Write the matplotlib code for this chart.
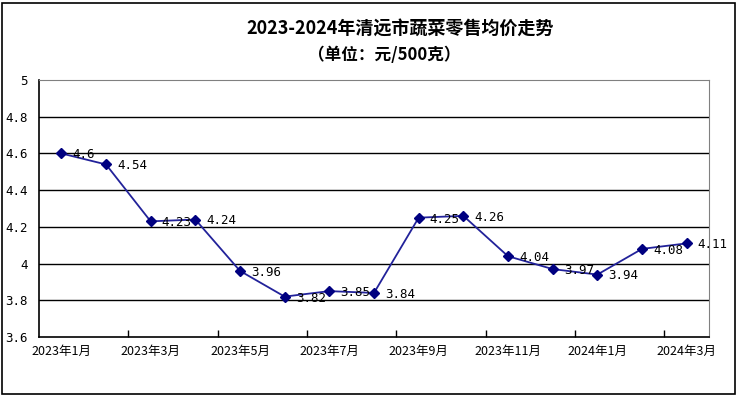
import matplotlib
matplotlib.use("Agg")
import matplotlib.pyplot as plt
from matplotlib.patches import Rectangle

plt.rcParams['font.family'] = ['Noto Sans CJK SC', 'DejaVu Sans']

months = ["2023年1月", "2023年2月", "2023年3月", "2023年4月", "2023年5月",
          "2023年6月", "2023年7月", "2023年8月", "2023年9月", "2023年10月",
          "2023年11月", "2023年12月", "2024年1月", "2024年2月", "2024年3月"]
prices = [4.6, 4.54, 4.23, 4.24, 3.96, 3.82, 3.85, 3.84, 4.25, 4.26,
          4.04, 3.97, 3.94, 4.08, 4.11]
y_ticks = [3.6, 3.8, 4, 4.2, 4.4, 4.6, 4.8, 5]
y_labels = ["3.6", "3.8", "4", "4.2", "4.4", "4.6", "4.8", "5"]

fig = plt.figure(figsize=(7.38, 3.96), dpi=100)
# outer chart border
fig.patches.append(Rectangle((2 / 738, 2 / 396), 733 / 738, 391 / 396,
                             transform=fig.transFigure, fill=False,
                             edgecolor="black", linewidth=1.2))

ax = fig.add_axes([39 / 738, 1 - 337 / 396, 670 / 738, 257 / 396])
x = list(range(len(months)))
ax.plot(x, prices, color="#22229a", linewidth=1.3, marker="D",
        markersize=5, markerfacecolor="#000080", markeredgecolor="#000080",
        zorder=3)

for xi, v in zip(x, prices):
    ax.annotate(f"{v:g}", (xi, v), xytext=(8, -1), textcoords="offset points",
                ha="left", va="center", fontsize=9, family="DejaVu Sans Mono",
                zorder=4)

ax.set_xlim(-0.5, len(months) - 0.5)
ax.set_ylim(3.6, 5)
ax.set_yticks(y_ticks)
ax.set_yticklabels(y_labels, fontsize=9, family="DejaVu Sans Mono")
ax.tick_params(axis="y", length=0, pad=8)

ax.set_xticks(x[::2])
ax.set_xticklabels(months[::2], fontsize=9)
ax.set_xticks([i + 0.5 for i in range(1, len(months) - 1, 2)], minor=True)
ax.tick_params(axis="x", which="major", length=0, pad=6)
ax.tick_params(axis="x", which="minor", direction="in", length=5, width=1)

for yv in y_ticks[1:-1]:
    ax.axhline(yv, color="black", linewidth=1, zorder=1)
for side in ["top", "right"]:
    ax.spines[side].set_color("#808080")
for side in ["left", "bottom"]:
    ax.spines[side].set_color("black")
    ax.spines[side].set_linewidth(1.2)

fig.text(400 / 738, 1 - 28 / 396, "2023-2024年清远市蔬菜零售均价走势", ha="center",
         va="center", fontsize=13, fontweight="bold")
fig.text(384 / 738, 1 - 55 / 396, "（单位：元/500克）", ha="center", va="center",
         fontsize=12, fontweight="bold")

fig.savefig("out.png", dpi=100)
